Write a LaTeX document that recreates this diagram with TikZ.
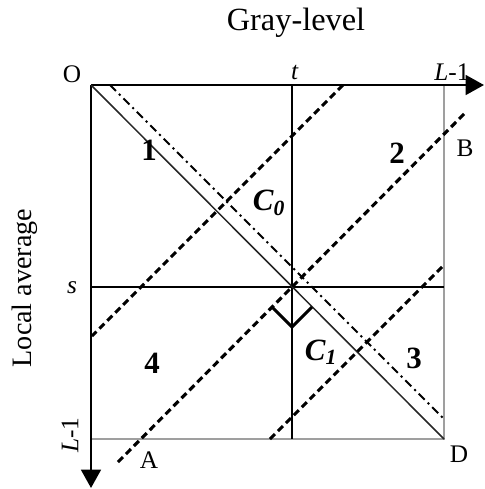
\documentclass[tikz,border=0pt]{standalone}
\usepackage{fontspec}
\setmainfont{Liberation Serif}
\usepackage{tikz}
\usetikzlibrary{arrows.meta,calc}
\tikzset{
  tengely/.style={line width=1.7pt,-{Triangle[length=13pt,width=14pt]}},
  szurke/.style={line width=2pt,draw=gray!75},
  racs/.style={line width=1.2pt},
  atlo/.style={line width=1.1pt,draw=black!85},
  pontvonal/.style={line width=1.5pt,dash pattern=on 6pt off 3pt on 1.5pt off 3pt},
  szagg/.style={line width=2.2pt,dash pattern=on 5pt off 3pt},
  derek/.style={line width=2.2pt},
  cimke/.style={font=\fontsize{18}{22}\selectfont,inner sep=0pt},
  resz/.style={font=\fontsize{22}{26}\selectfont\bfseries,inner sep=0pt},
}

\begin{document}
\begin{tikzpicture}[x=0.025cm,y=-0.025cm]
  \useasboundingbox (0,0) rectangle (485,489);
  % pontok
  \coordinate (O) at (91,85);
  \coordinate (xveg) at (484,85);
  \coordinate (yveg) at (91,488);
  \coordinate (R) at (444,85);
  \coordinate (D) at (444,439);
  \coordinate (L) at (91,439);
  \coordinate (t1) at (292,85);
  \coordinate (t2) at (292,439);
  \coordinate (s1) at (91,287);
  \coordinate (s2) at (444,287);
  % keret
  \draw[szurke] (R) -- (D) -- (L);
  \draw[racs] (t1) -- (t2);
  \draw[racs] (s1) -- (s2);
  \draw[tengely] (O) -- (xveg);
  \draw[tengely] (O) -- (yveg);
  % atlok
  \draw[atlo] (O) -- (D);
  \coordinate (p1) at (110,85);
  \coordinate (p2) at (444,419);
  \draw[pontvonal] (p1) -- (p2);
  % szaggatott vonalak
  \coordinate (a1) at (343,85);
  \coordinate (a2) at (92,336);
  \coordinate (b1) at (118,462);
  \coordinate (b2) at (465,113);
  \coordinate (c1) at (270,439);
  \coordinate (c2) at (444,265);
  \draw[szagg] (a1) -- (a2);
  \draw[szagg] (b1) -- (b2);
  \draw[szagg] (c1) -- (c2);
  % derekszog
  \coordinate (d1) at (272,307);
  \coordinate (d2) at (292,327);
  \coordinate (d3) at (312,307);
  \draw[derek] (d1) -- (d2) -- (d3);
  % feliratok
  \node[font=\fontsize{23}{27}\selectfont,inner sep=0pt] (gl) at (296,23) {Gray-level};
  \node[font=\fontsize{20}{24}\selectfont,inner sep=0pt,rotate=90] (la) at (25,288) {Local average};
  \node[cimke] (lo) at (72,74) {O};
  \node[cimke] (lt) at (295,72) {\textit{t}};
  \node[cimke] (lx) at (452,72) {\textit{L}-1};
  \node[cimke] (ls) at (72,288) {\textit{s}};
  \node[cimke,rotate=90] (ly) at (70,435) {\textit{L}-1};
  \node[cimke] (lb) at (465,148) {B};
  \node[cimke] (la2) at (149,460) {A};
  \node[cimke] (ld) at (459,454) {D};
  \node[resz] (r1) at (149,150) {1};
  \node[resz] (r2) at (397,153) {2};
  \node[resz] (r3) at (414,358) {3};
  \node[resz] (r4) at (152,363) {4};
  \node[resz] (c0) at (269,203) {\textit{C}\textsubscript{\textit{0}}};
  \node[resz] (cc1) at (321,352) {\textit{C}\textsubscript{\textit{1}}};
\end{tikzpicture}
\end{document}
